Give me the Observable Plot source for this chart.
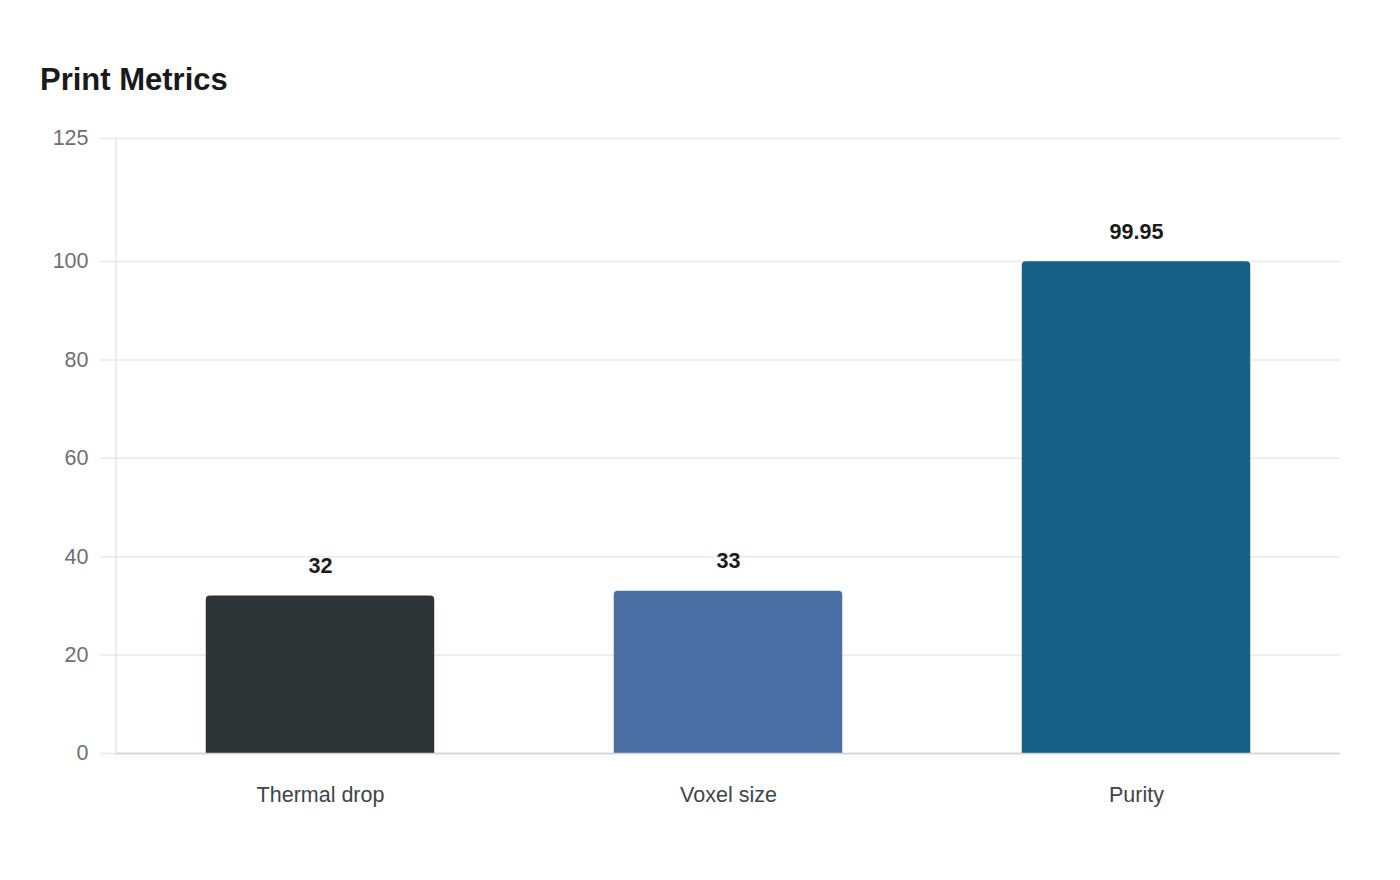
<!DOCTYPE html>
<html>
<head>
<meta charset="utf-8">
<script src="https://cdn.jsdelivr.net/npm/d3@7"></script>
<script src="https://cdn.jsdelivr.net/npm/@observablehq/plot@0.6"></script>
<style>
  html, body { margin: 0; padding: 0; background: #ffffff; }
  body { width: 1400px; height: 880px; position: relative; overflow: hidden; font-family: "Liberation Sans", Arial, sans-serif; }
  #title { position: absolute; left: 40px; top: 61px; font-size: 31px; font-weight: bold; color: #1a1a1a; line-height: 38px; margin: 0; }
  #chart { position: absolute; left: 0; top: 111px; }
</style>
</head>
<body>
<h1 id="title">Print Metrics</h1>
<div id="chart"></div>
<script>
const categories = ["Thermal drop", "Voxel size", "Purity"];
const values = [32, 33, 99.95];
const labels = ["32", "33", "99.95"];
const palette = ["#2e3538", "#4a6fa5", "#176087"];
const yTicks = [0, 20, 40, 60, 80, 100, 125];

const data = categories.map((c, i) => ({category: c, value: values[i], label: labels[i]}));

const plot = Plot.plot({
  width: 1400,
  height: 769,
  marginTop: 27,
  marginBottom: 127,
  marginLeft: 116,
  marginRight: 60,
  style: {fontFamily: "'Liberation Sans', Arial, sans-serif", background: "#ffffff"},
  x: {domain: categories, paddingInner: 0.44, paddingOuter: 0.22, round: false, label: null},
  y: {domain: [0, 125], label: null},
  color: {domain: categories, range: palette},
  marks: [
    Plot.ruleY(yTicks, {stroke: "#e8e8e8", strokeWidth: 1.5, insetLeft: -16}),
    Plot.barY(data, {x: "category", y: "value", fill: "category", ry1: 4}),
    Plot.ruleY([0], {stroke: "#cfd3d8", strokeWidth: 1.5}),
    Plot.axisY({ticks: yTicks, tickSize: 0, tickPadding: 28, fontSize: 21.5, fill: "#6b7075", label: null}),
    Plot.axisX({tickSize: 0, tickPadding: 33, fontSize: 21.5, fill: "#40454a", label: null}),
    Plot.text(data, {x: "category", y: "value", text: "label", dy: -30, fontSize: 21.5, fontWeight: "bold", fill: "#1a1a1a"})
  ]
});

// vertical axis line on the left of the plotting area
const svg = d3.select(plot);
svg.append("line")
  .attr("x1", 116).attr("x2", 116)
  .attr("y1", 27).attr("y2", 642)
  .attr("stroke", "#dddddd").attr("stroke-width", 1);

document.getElementById("chart").appendChild(plot);
</script>
</body>
</html>
